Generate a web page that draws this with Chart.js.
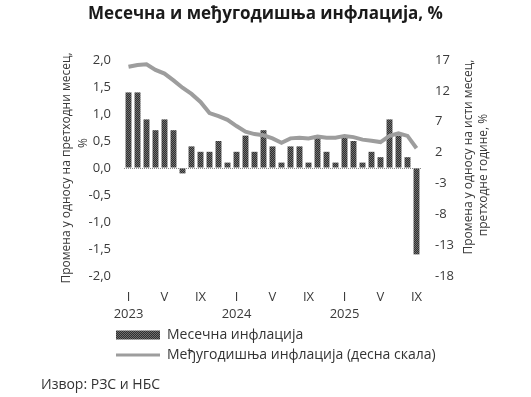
<!DOCTYPE html>
<html>
<head>
<meta charset="utf-8">
<script src="https://cdn.jsdelivr.net/npm/chart.js@4.4.1/dist/chart.umd.min.js"></script>
<style>
  html, body { margin: 0; padding: 0; background: #fff; }
</style>
</head>
<body>
<canvas id="inflChart" width="531" height="397"></canvas>
<script>
/* global Chart:false */

// categories: months I 2023 - IX 2025
var periods = [
  'I 2023', 'II 2023', 'III 2023', 'IV 2023', 'V 2023', 'VI 2023', 'VII 2023', 'VIII 2023', 'IX 2023', 'X 2023', 'XI 2023', 'XII 2023',
  'I 2024', 'II 2024', 'III 2024', 'IV 2024', 'V 2024', 'VI 2024', 'VII 2024', 'VIII 2024', 'IX 2024', 'X 2024', 'XI 2024', 'XII 2024',
  'I 2025', 'II 2025', 'III 2025', 'IV 2025', 'V 2025', 'VI 2025', 'VII 2025', 'VIII 2025', 'IX 2025'
]
// monthly inflation, % (left axis)
var monthly = [
  1.4, 1.4, 0.9, 0.7, 0.9, 0.7, -0.1, 0.4, 0.3, 0.3, 0.5, 0.1,
  0.3, 0.6, 0.3, 0.7, 0.4, 0.1, 0.4, 0.4, 0.1, 0.6, 0.3, 0.1,
  0.6, 0.5, 0.1, 0.3, 0.2, 0.9, 0.6, 0.2, -1.6
]
// y-o-y inflation, % (right axis)
var yearly = [
  15.9, 16.2, 16.3, 15.4, 14.8, 13.7, 12.5, 11.5, 10.2, 8.4, 7.9, 7.3,
  6.3, 5.4, 5.0, 4.8, 4.3, 3.6, 4.3, 4.4, 4.3, 4.6, 4.4, 4.4,
  4.7, 4.5, 4.1, 3.9, 3.7, 4.7, 5.1, 4.7, 2.7
]
var shownMonths = ['I', 'V', 'IX']
var seriesNames = ['Месечна инфлација', 'Међугодишња инфлација (десна скала)']
var leftTitle = ['Промена у односу на претходни месец,', '%']
var rightTitle = ['Промена у односу на исти месец,', 'претходне године, %']
var sourceText = 'Извор: РЗС и НБС'

Chart.defaults.font.family = '"Open Sans", "Noto Sans", sans-serif'
Chart.defaults.color = '#3a3a3a'

function hatch (c1, c2) {
  var p = document.createElement('canvas')
  p.width = 2
  p.height = 2
  var g = p.getContext('2d')
  g.fillStyle = c1
  g.fillRect(0, 0, 2, 2)
  g.fillStyle = c2
  g.fillRect(0, 0, 1, 1)
  g.fillRect(1, 1, 1, 1)
  return g.createPattern(p, 'repeat')
}

function rotText (ctx, txt, x, y) {
  ctx.save()
  ctx.translate(x, y)
  ctx.rotate(-Math.PI / 2)
  ctx.fillText(txt, 0, 0)
  ctx.restore()
}

// axis titles (both read bottom-to-top), source note, legend shift
var extras = {
  id: 'extras',
  afterLayout: function (chart) {
    var lg = chart.legend
    lg.left -= 14
    lg.right = chart.width
    lg.width = lg.right - lg.left
  },
  afterDraw: function (chart) {
    var ctx = chart.ctx
    var a = chart.chartArea
    var mid = (a.top + a.bottom) / 2
    ctx.save()
    ctx.fillStyle = '#3a3a3a'
    ctx.font = '12px "Open Sans", "Noto Sans", sans-serif'
    ctx.textAlign = 'center'
    ctx.textBaseline = 'middle'
    rotText(ctx, leftTitle[0], a.left - 57, mid)
    rotText(ctx, leftTitle[1], a.left - 40, mid - 25)
    rotText(ctx, rightTitle[0], a.right + 48, mid - 11)
    rotText(ctx, rightTitle[1], a.right + 63, mid + 7)
    ctx.font = '14px "Open Sans", "Noto Sans", sans-serif'
    ctx.textAlign = 'left'
    ctx.fillStyle = '#333'
    ctx.fillText(sourceText, 41, chart.height - 12)
    ctx.restore()
  }
}

var ctx = document.getElementById('inflChart').getContext('2d')

var inflChart = new Chart(ctx, {
  type: 'bar',
  data: {
    labels: periods,
    datasets: [
      {
        type: 'bar',
        label: seriesNames[0],
        data: monthly,
        yAxisID: 'y',
        backgroundColor: hatch('#2f2f2f', '#707070'),
        categoryPercentage: 1,
        barPercentage: 0.66,
        order: 2
      },
      {
        type: 'line',
        label: seriesNames[1],
        data: yearly,
        yAxisID: 'y2',
        borderColor: '#9d9d9d',
        backgroundColor: '#9d9d9d',
        borderWidth: 4,
        pointRadius: 0,
        tension: 0,
        order: 1
      }
    ]
  },
  options: {
    responsive: false,
    animation: false,
    layout: { padding: { left: 0, right: 0, top: 0, bottom: 25 } },
    plugins: {
      tooltip: { enabled: false },
      title: {
        display: true,
        text: 'Месечна и међугодишња инфлација, %',
        color: '#1a1a1a',
        font: { size: 17, weight: 'bold' },
        padding: { top: 4, bottom: 35.6 }
      },
      legend: {
        position: 'bottom',
        align: 'start',
        fullSize: false,
        labels: {
          usePointStyle: true,
          pointStyleWidth: 44,
          boxHeight: 9,
          padding: 6,
          color: '#333',
          font: { size: 14 },
          sort: function (a, b) { return a.datasetIndex - b.datasetIndex },
          generateLabels: function (chart) {
            var items = Chart.defaults.plugins.legend.labels.generateLabels(chart)
            items.forEach(function (it) {
              it.pointStyle = it.datasetIndex === 0 ? 'rect' : 'line'
              if (it.datasetIndex === 1) it.lineWidth = 3
            })
            return items
          }
        }
      }
    },
    scales: {
      x: {
        afterFit: function (s) { s.height = 46 },
        grid: { display: false, drawTicks: false },
        border: { display: false },
        ticks: {
          autoSkip: false,
          maxRotation: 0,
          padding: 12.5,
          font: { size: 13, lineHeight: 1.3 },
          callback: function (v, i) {
            var parts = periods[i].split(' ')
            if (shownMonths.indexOf(parts[0]) < 0) return ''
            return parts[0] === 'I' ? [parts[0], parts[1]] : parts[0]
          }
        }
      },
      y: {
        position: 'left',
        min: -2,
        max: 2,
        afterFit: function (s) { s.width = 124 },
        ticks: {
          stepSize: 0.5,
          padding: 13,
          font: { size: 13 },
          callback: function (v) { return v.toFixed(1).replace('.', ',') }
        },
        grid: {
          drawTicks: false,
          color: function (c) { return c.tick && c.tick.value === 0 ? '#8a8a8a' : 'rgba(0,0,0,0)' }
        },
        border: { display: false, dash: [1, 1] }
      },
      y2: {
        position: 'right',
        min: -18,
        max: 17,
        afterFit: function (s) { s.width = 110 },
        ticks: {
          stepSize: 5,
          padding: 14,
          font: { size: 13 }
        },
        grid: { display: false, drawTicks: false },
        border: { display: false }
      }
    }
  },
  plugins: [extras]
})
</script>
</body>
</html>
